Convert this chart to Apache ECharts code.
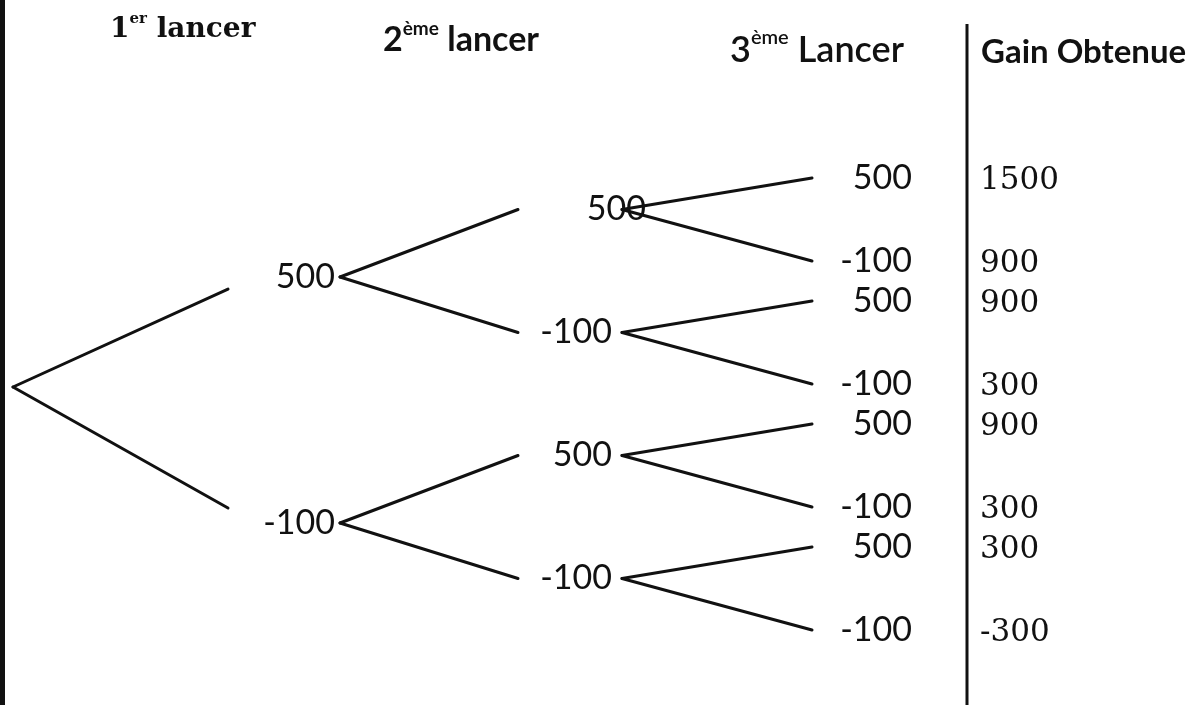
<!DOCTYPE html>
<html><head><meta charset="utf-8">
<script src="https://cdn.jsdelivr.net/npm/echarts@6/dist/echarts.min.js"></script>
<style>html,body{margin:0;padding:0;background:#fff}#c{width:1197px;height:705px}</style>
</head><body><div id="c"></div>
<script>
// ---------------- data ----------------
const headerNumber = ['1', '2', '3'];
const headerSup = ['er', 'ème', 'ème'];
const headerWord = ['lancer', 'lancer', 'Lancer'];
const gainTitle = 'Gain Obtenue';
const outcomes = ['500', '-100'];          // result of one throw
const throwsCount = 3;
const gains = ['1500', '900', '900', '300', '900', '300', '300', '-300'];

// ---------------- layout (drawing space 1197 x 705) ----------------
const L = {
  width: 1197, height: 705,
  startX: [13, 340, 622],            // x where branches leave a node, per level 0..2
  endX: [null, 228, 518, 812],       // x where branches end, per level 1..3
  labelX: [null, 335, 612, 912],     // right edge of node labels, per level 1..3
  firstLabelShift: [0, 0, 34, 0],    // the first node label of level 2 sits over its branches
  pull: [null, 0.11, 0, 0],          // branch end pulled toward parent
  leafTop: 178, pairStep: 123, pairGap: 83,
  yShift: [-13, 6, -10],             // node y correction per level 0..2
  gainX: 980, gainDy: 3,
  headerX: [110, 383, 730, 981],
  headerY: [28, 38, 48, 52],
  dividerX: 967, dividerTop: 24,
  borderX: 2.5
};
const INK = '#111';

// ---------------- build tree ----------------
const nodeY = [];
nodeY[throwsCount] = [];
for (let i = 0; i < Math.pow(2, throwsCount); i++) {
  nodeY[throwsCount][i] = L.leafTop + Math.floor(i / 2) * L.pairStep + (i % 2) * L.pairGap;
}
for (let k = throwsCount - 1; k >= 0; k--) {
  nodeY[k] = [];
  for (let i = 0; i < Math.pow(2, k); i++) {
    nodeY[k][i] = (nodeY[k + 1][2 * i] + nodeY[k + 1][2 * i + 1]) / 2 + L.yShift[k];
  }
}
const edges = [];
const nodeLabels = [];
for (let k = 1; k <= throwsCount; k++) {
  for (let i = 0; i < Math.pow(2, k); i++) {
    const p = Math.floor(i / 2);
    const py = nodeY[k - 1][p], cy = nodeY[k][i];
    edges.push([L.startX[k - 1], py, L.endX[k], cy + (py - cy) * L.pull[k]]);
    const lx = L.labelX[k] + (i === 0 ? L.firstLabelShift[k] : 0);
    nodeLabels.push([lx, cy, nodeLabels.length, outcomes[i % 2]]);
  }
}
const gainItems = gains.map((g, i) => [L.gainX, nodeY[throwsCount][i] + L.gainDy, i, g]);
const headerItems = headerNumber.map((n, i) => [L.headerX[i], L.headerY[i], i]);
headerItems.push([L.headerX[3], L.headerY[3], 3]);
const rules = [
  [L.borderX, 0, L.borderX, L.height, 5],
  [L.dividerX, L.dividerTop, L.dividerX, L.height, 3]
];

const chart = echarts.init(document.getElementById('c'), null, {renderer: 'canvas'});
chart.setOption({
  animation: false,
  backgroundColor: '#fff',
  grid: {left: 0, right: 0, top: 0, bottom: 0},
  xAxis: {type: 'value', min: 0, max: L.width, show: false},
  yAxis: {type: 'value', min: 0, max: L.height, inverse: true, show: false},
  series: [
    {
      type: 'custom', coordinateSystem: 'cartesian2d', data: rules,
      renderItem: (params, api) => {
        const a = api.coord([api.value(0), api.value(1)]);
        const b = api.coord([api.value(2), api.value(3)]);
        return {type: 'line', shape: {x1: a[0], y1: a[1], x2: b[0], y2: b[1]},
          style: {stroke: INK, lineWidth: api.value(4)}};
      }
    },
    {
      type: 'custom', coordinateSystem: 'cartesian2d', data: edges,
      renderItem: (params, api) => {
        const a = api.coord([api.value(0), api.value(1)]);
        const b = api.coord([api.value(2), api.value(3)]);
        return {type: 'line', shape: {x1: a[0], y1: a[1], x2: b[0], y2: b[1]},
          style: {stroke: INK, lineWidth: 3, lineCap: 'round'}};
      }
    },
    {
      type: 'custom', coordinateSystem: 'cartesian2d', data: nodeLabels,
      renderItem: (params, api) => {
        const a = api.coord([api.value(0), api.value(1)]);
        return {type: 'text', x: a[0], y: a[1],
          style: {text: nodeLabels[params.dataIndex][3], fill: INK, align: 'right', verticalAlign: 'middle',
            fontFamily: 'Lato', fontSize: 34}};
      }
    },
    {
      type: 'custom', coordinateSystem: 'cartesian2d', data: gainItems,
      renderItem: (params, api) => {
        const a = api.coord([api.value(0), api.value(1)]);
        return {type: 'text', x: a[0], y: a[1],
          style: {text: gainItems[params.dataIndex][3], fill: INK, align: 'left', verticalAlign: 'middle',
            fontFamily: 'DejaVu Serif', fontSize: 31}};
      }
    },
    {
      type: 'custom', coordinateSystem: 'cartesian2d', data: headerItems,
      renderItem: (params, api) => {
        const i = params.dataIndex;
        const a = api.coord([api.value(0), api.value(1)]);
        let text, rich;
        if (i < 3) {
          const serif = i === 0;
          const fam = serif ? 'DejaVu Serif' : 'Lato';
          const fs = serif ? 28 : (i === 1 ? 34 : 36);
          const fw = i === 2 ? 600 : 'bold';
          text = '{n|' + headerNumber[i] + '}{s|' + headerSup[i] + '}{w| ' + headerWord[i] + '}';
          rich = {
            n: {fontFamily: fam, fontWeight: fw, fontSize: fs, fill: INK, verticalAlign: 'bottom', lineHeight: fs + 4},
            s: {fontFamily: fam, fontWeight: fw, fontSize: Math.round(fs * 0.55), fill: INK, verticalAlign: 'top', lineHeight: fs + 4},
            w: {fontFamily: fam, fontWeight: fw, fontSize: fs, fill: INK, verticalAlign: 'bottom', lineHeight: fs + 4}
          };
        } else {
          text = '{w|' + gainTitle + '}';
          rich = {w: {fontFamily: 'Lato', fontWeight: 'bold', fontSize: 33, fill: INK}};
        }
        return {type: 'text', x: a[0], y: a[1],
          style: {text: text, rich: rich, fill: INK, align: 'left', verticalAlign: 'middle'}};
      }
    }
  ]
});
</script>
</body></html>
